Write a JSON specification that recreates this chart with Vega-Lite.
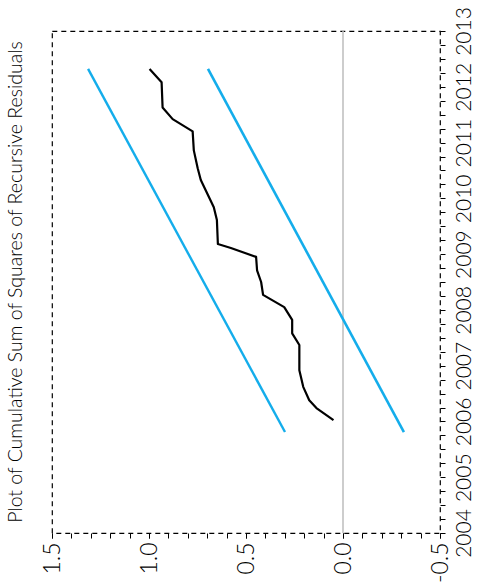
{
  "$schema": "https://vega.github.io/schema/vega-lite/v6.json",
  "width": 388,
  "height": 502,
  "autosize": {"type": "none"},
  "padding": {"left": 52, "top": 31, "right": 39, "bottom": 52},
  "background": "white",
  "config": {
    "view": {"stroke": "black", "strokeDash": [5, 4], "strokeWidth": 1.2},
    "font": "Lato"
  },
  "title": {
    "text": "Plot of Cumulative Sum of Squares of Recursive Residuals",
    "orient": "left",
    "anchor": "middle",
    "fontSize": 19.5,
    "fontWeight": 300,
    "font": "Lato",
    "color": "black",
    "offset": 15
  },
  "datasets": {
    "lines": [
      {"series": "CUSUM of Squares", "t": 2006.025, "v": 0.049},
      {"series": "CUSUM of Squares", "t": 2006.24, "v": 0.137},
      {"series": "CUSUM of Squares", "t": 2006.38, "v": 0.174},
      {"series": "CUSUM of Squares", "t": 2006.62, "v": 0.205},
      {"series": "CUSUM of Squares", "t": 2006.92, "v": 0.225},
      {"series": "CUSUM of Squares", "t": 2007.37, "v": 0.225},
      {"series": "CUSUM of Squares", "t": 2007.58, "v": 0.262},
      {"series": "CUSUM of Squares", "t": 2007.82, "v": 0.262},
      {"series": "CUSUM of Squares", "t": 2008.05, "v": 0.303},
      {"series": "CUSUM of Squares", "t": 2008.27, "v": 0.412},
      {"series": "CUSUM of Squares", "t": 2008.5, "v": 0.422},
      {"series": "CUSUM of Squares", "t": 2008.71, "v": 0.443},
      {"series": "CUSUM of Squares", "t": 2008.95, "v": 0.448},
      {"series": "CUSUM of Squares", "t": 2009.11, "v": 0.578},
      {"series": "CUSUM of Squares", "t": 2009.18, "v": 0.645},
      {"series": "CUSUM of Squares", "t": 2009.61, "v": 0.65},
      {"series": "CUSUM of Squares", "t": 2009.84, "v": 0.666},
      {"series": "CUSUM of Squares", "t": 2010.33, "v": 0.733},
      {"series": "CUSUM of Squares", "t": 2010.54, "v": 0.749},
      {"series": "CUSUM of Squares", "t": 2010.86, "v": 0.769},
      {"series": "CUSUM of Squares", "t": 2011.2, "v": 0.775},
      {"series": "CUSUM of Squares", "t": 2011.42, "v": 0.878},
      {"series": "CUSUM of Squares", "t": 2011.63, "v": 0.93},
      {"series": "CUSUM of Squares", "t": 2012.08, "v": 0.935},
      {"series": "CUSUM of Squares", "t": 2012.32, "v": 0.997},
      {"series": "Upper bound", "t": 2005.81, "v": 0.299},
      {"series": "Upper bound", "t": 2012.32, "v": 1.314},
      {"series": "Lower bound", "t": 2005.81, "v": -0.314},
      {"series": "Lower bound", "t": 2012.32, "v": 0.696}
    ],
    "zero": [{"v": 0}]
  },
  "resolve": {"axis": {"x": "independent"}},
  "layer": [
    {
      "data": {"name": "zero"},
      "mark": {"type": "rule", "color": "#bdbdbd", "strokeWidth": 1.5},
      "encoding": {
        "x": {
          "field": "v",
          "type": "quantitative",
          "scale": {"domain": [-0.5, 1.5], "reverse": true, "nice": false, "zero": false},
          "axis": {
            "orient": "bottom",
            "title": null,
            "grid": false,
            "domain": false,
            "labels": false,
            "values": [-0.5, -0.4, -0.3, -0.2, -0.1, 0, 0.1, 0.2, 0.3, 0.4, 0.5, 0.6, 0.7, 0.8, 0.9, 1.0, 1.1, 1.2, 1.3, 1.4, 1.5],
            "tickSize": 5,
            "tickColor": "black",
            "tickWidth": 1
          }
        }
      }
    },
    {
      "data": {"name": "lines"},
      "mark": {"type": "line", "strokeJoin": "round", "strokeCap": "butt"},
      "encoding": {
        "y": {
          "field": "t",
          "type": "quantitative",
          "scale": {"domain": [2004, 2013], "zero": false, "nice": false},
          "axis": {
            "orient": "right",
            "title": null,
            "grid": false,
            "domain": false,
            "values": [2004, 2004.25, 2004.5, 2004.75, 2005, 2005.25, 2005.5, 2005.75, 2006, 2006.25, 2006.5, 2006.75, 2007, 2007.25, 2007.5, 2007.75, 2008, 2008.25, 2008.5, 2008.75, 2009, 2009.25, 2009.5, 2009.75, 2010, 2010.25, 2010.5, 2010.75, 2011, 2011.25, 2011.5, 2011.75, 2012, 2012.25, 2012.5, 2012.75, 2013],
            "labelExpr": "datum.value % 1 == 0 ? format(datum.value, 'd') : ''",
            "labelAngle": -90,
            "labelAlign": "center",
            "labelBaseline": "top",
            "labelFontSize": 21,
            "labelFontWeight": 300,
            "labelColor": "black",
            "labelPadding": 8,
            "labelOverlap": false,
            "labelBound": false,
            "labelFlush": false,
            "tickSize": 5,
            "tickColor": "black",
            "tickWidth": 1
          }
        },
        "x": {
          "field": "v",
          "type": "quantitative",
          "scale": {"domain": [-0.5, 1.5], "reverse": true, "nice": false, "zero": false},
          "axis": {
            "orient": "bottom",
            "title": null,
            "grid": false,
            "domain": false,
            "values": [-0.5, 0, 0.5, 1.0, 1.5],
            "labelExpr": "replace(format(datum.value, '.1f'), '\u2212', '-')",
            "labelAngle": -90,
            "labelAlign": "right",
            "labelBaseline": "middle",
            "labelFontSize": 23,
            "labelFontWeight": 300,
            "labelColor": "black",
            "labelPadding": 4,
            "labelOverlap": false,
            "labelBound": false,
            "labelFlush": false,
            "tickSize": 5,
            "tickColor": "black",
            "tickWidth": 1
          }
        },
        "order": {"field": "t", "type": "quantitative"},
        "detail": {"field": "series"},
        "color": {
          "field": "series",
          "type": "nominal",
          "scale": {"domain": ["CUSUM of Squares", "Upper bound", "Lower bound"], "range": ["#000000", "#14ADEB", "#14ADEB"]},
          "legend": null
        },
        "strokeWidth": {
          "field": "series",
          "type": "nominal",
          "scale": {"domain": ["CUSUM of Squares", "Upper bound", "Lower bound"], "range": [2.2, 2.6, 2.6]},
          "legend": null
        }
      }
    }
  ]
}
